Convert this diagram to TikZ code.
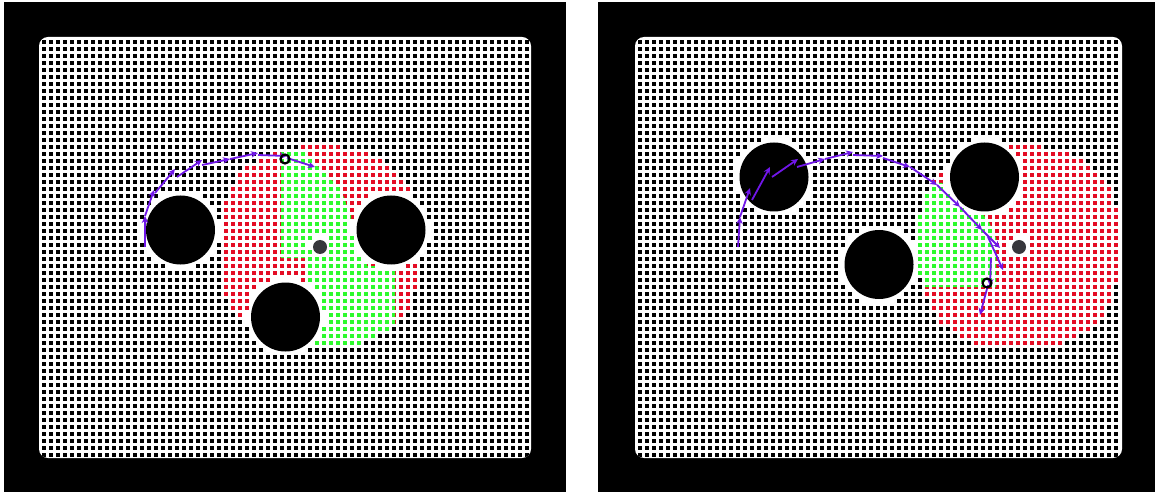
\documentclass[tikz,border=0pt]{standalone}
\usetikzlibrary{arrows.meta}
\definecolor{pathcol}{RGB}{112,22,232}
\definecolor{dred}{RGB}{228,12,36}
\definecolor{dgreen}{RGB}{45,250,45}
\definecolor{goalgray}{RGB}{55,55,60}
\newcommand\hs{1.65}
\newcommand\ds{3.3}
\newcommand\hr{15.6}
\newcommand\ghr{1.21}
\newcommand\Rd{101}
\newcommand\cellcalc[2]{%
  \pgfmathparse{((abs(#1-\oAx)/10)^2+(abs(#2-\oAy)/10)^2<\hr) || ((abs(#1-\oBx)/10)^2+(abs(#2-\oBy)/10)^2<\hr) || ((abs(#1-\oCx)/10)^2+(abs(#2-\oCy)/10)^2<\hr) || ((abs(#1-\gx)/10)^2+(abs(#2-\gy)/10)^2<\ghr)}%
  \let\cellskip\pgfmathresult
  \pgfmathsetmacro\uu{abs(#1-\gx)/\Rd}%
  \pgfmathsetmacro\vv{abs(#2-\gy)/\Rd}%
  \pgfmathparse{\uu*\uu*sqrt(\uu)+\vv*\vv*sqrt(\vv)<=1}%
  \let\cellin\pgfmathresult
}
\newcommand\panelcells[3]{%
  \foreach \i in {0,...,#3}{%
    \foreach \j in {0,...,59}{%
      \pgfmathsetmacro\cx{#1+7*\i}%
      \pgfmathsetmacro\cy{#2+7*\j}%
      \cellcalc{\cx}{\cy}%
      \ifdim\cellskip pt<0.5pt
        \ifdim\cellin pt>0.5pt \def\cc{dred}\else\def\cc{black}\fi
        \fill[\cc] (\cx-\hs,\cy-\hs) rectangle ++(\ds,\ds);
      \fi
    }}%
}
\newcommand\greencells[6]{%
  \foreach \i in {#3,...,#4}{%
    \foreach \j in {#5,...,#6}{%
      \pgfmathsetmacro\cx{#1+7*\i}%
      \pgfmathsetmacro\cy{#2+7*\j}%
      \cellcalc{\cx}{\cy}%
      \ifdim\cellskip pt<0.5pt
        \ifdim\cellin pt>0.5pt
          \fill[dgreen] (\cx-\hs-0.2,\cy-\hs-0.2) rectangle ++(\ds+0.4,\ds+0.4);
        \fi
      \fi
    }}%
}
\tikzset{
  obst/.style={fill=black},
  goaldot/.style={fill=goalgray},
  robot/.style={draw=black,line width=2.2pt,circle,inner sep=0pt,minimum size=9pt},
  seg/.style={draw=pathcol,line width=1.8pt,-{Stealth[length=7pt,width=6.5pt]}},
}
\begin{document}
\begin{tikzpicture}[x=1pt,y=-1pt]
\useasboundingbox (0,0) rectangle (1158,494);
\fill[white] (0,0) rectangle (1158,494);
\fill[black] (4,2) rectangle (566,492);
\fill[black] (598,2) rectangle (1155,492);
\fill[white,rounded corners=9pt] (39,37) rectangle (531,458);
\fill[white,rounded corners=9pt] (635,37) rectangle (1122,458);

% ---------- left panel cells
\begin{scope}
\clip[rounded corners=9pt] (39,37) rectangle (531,458);
\def\oAx{180.5}\def\oAy{230}
\def\oBx{391}\def\oBy{230}
\def\oCx{285.5}\def\oCy{317}
\def\gx{320}\def\gy{247}
\panelcells{44}{42}{69}
\begin{scope}
\clip (281,150) -- (303,150) -- (320,168) -- (340,188) -- (351,215) -- (351,236) -- (367,236) -- (367,266) -- (395,266) -- (395,352) -- (306,352) -- (306,258) -- (281,258) -- cycle;
\greencells{44}{42}{33}{51}{15}{45}
\end{scope}
\end{scope}

% ---------- right panel cells
\begin{scope}
\clip[rounded corners=9pt] (635,37) rectangle (1122,458);
\def\oAx{774}\def\oAy{177}
\def\oBx{984.5}\def\oBy{177}
\def\oCx{879}\def\oCy{264.5}
\def\gx{1019}\def\gy{247}
\panelcells{640}{42}{68}
\begin{scope}
\clip (918,183) -- (942,183) -- (970,200) -- (988,220) -- (996,238) -- (996,287) -- (918,287) -- cycle;
\greencells{640}{42}{39}{51}{20}{36}
\end{scope}
\end{scope}

% ---------- obstacles and goals
\fill[obst] (180.5,230) circle (34.5);
\fill[obst] (391,230) circle (34.5);
\fill[obst] (285.5,317) circle (34.5);
\fill[goaldot] (320,247) circle (7);
\fill[obst] (774,177) circle (34.5);
\fill[obst] (984.5,177) circle (34.5);
\fill[obst] (879,264.5) circle (34.5);
\fill[goaldot] (1019,247) circle (7);

% ---------- left path
\coordinate (l0) at (145,247);
\coordinate (l1) at (145,216);
\coordinate (l2) at (154,190);
\coordinate (l3a) at (155,193);
\coordinate (l3) at (175,169);
\coordinate (l4a) at (177,177);
\coordinate (l4) at (202,160);
\coordinate (l5a) at (202,165);
\coordinate (l5) at (230,159);
\coordinate (l6) at (258,153);
\coordinate (l7a) at (258,155);
\coordinate (l7) at (287,156);
\coordinate (l8a) at (287,158);
\coordinate (l8) at (315,167);
\draw[seg] (l0) -- (l1);
\draw[seg] (l1) -- (l2);
\draw[seg] (l3a) -- (l3);
\draw[seg] (l4a) -- (l4);
\draw[seg] (l5a) -- (l5);
\draw[seg] (l5) -- (l6);
\draw[seg] (l7a) -- (l7);
\draw[seg] (l8a) -- (l8);
\node[robot] (lrob) at (285,159) {};

% ---------- right path
\coordinate (r0) at (738,247);
\coordinate (r1) at (740,217);
\coordinate (r2) at (750,188);
\coordinate (r3a) at (752,200);
\coordinate (r3) at (770,167);
\coordinate (r4a) at (772,177);
\coordinate (r4) at (798,159);
\coordinate (r5a) at (797,167);
\coordinate (r5) at (825,159);
\coordinate (r6) at (853,152);
\coordinate (r7a) at (853,155);
\coordinate (r7) at (883,156);
\coordinate (r8a) at (883,158);
\coordinate (r8) at (910,167);
\coordinate (r9) at (937,185);
\coordinate (r10) at (960,207);
\coordinate (r11) at (982,230);
\coordinate (r12) at (1000,248);
\coordinate (r13a) at (988,237);
\coordinate (r13) at (1003,270);
\coordinate (r14a) at (991,258);
\coordinate (r14) at (990,286);
\coordinate (r15a) at (988,285);
\coordinate (r15) at (980,315);
\draw[seg] (r0) -- (r1);
\draw[seg] (r1) -- (r2);
\draw[seg] (r3a) -- (r3);
\draw[seg] (r4a) -- (r4);
\draw[seg] (r5a) -- (r5);
\draw[seg] (r5) -- (r6);
\draw[seg] (r7a) -- (r7);
\draw[seg] (r8a) -- (r8);
\draw[seg] (r8) -- (r9);
\draw[seg] (r9) -- (r10);
\draw[seg] (r10) -- (r11);
\draw[seg] (r11) -- (r12);
\draw[seg] (r13a) -- (r13);
\draw[seg] (r14a) -- (r14);
\draw[seg] (r15a) -- (r15);
\node[robot] (rrob) at (987,283) {};
\end{tikzpicture}
\end{document}
